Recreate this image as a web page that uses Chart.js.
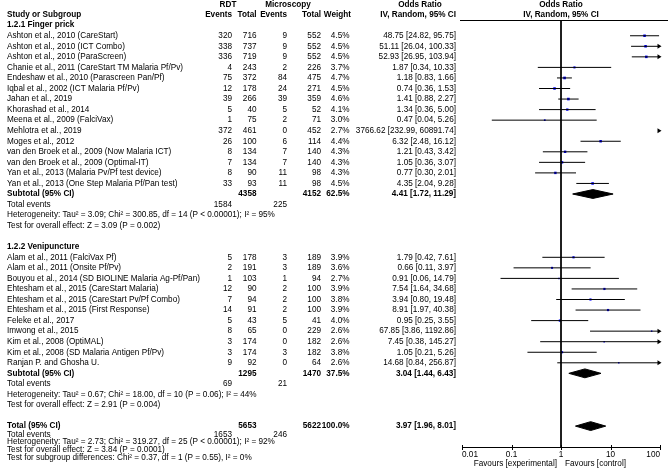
<!DOCTYPE html>
<html>
<head>
<meta charset="utf-8">
<script src="https://cdn.jsdelivr.net/npm/chart.js@4.4.0/dist/chart.umd.min.js"></script>
<style>
  html, body { margin: 0; padding: 0; background: #fff; }
</style>
</head>
<body>
<canvas id="forest" width="668" height="474"></canvas>
<script>
// ---- 1.2.1 Finger prick ----
var fingerStudies = [
  'Ashton et al., 2010 (CareStart)',
  'Ashton et al., 2010 (ICT Combo)',
  'Ashton et al., 2010 (ParaScreen)',
  'Chanie et al., 2011 (CareStart TM Malaria Pf/Pv)',
  'Endeshaw et al., 2010 (Parascreen Pan/Pf)',
  'Iqbal et al., 2002 (ICT Malaria Pf/Pv)',
  'Jahan et al., 2019',
  'Khorashad et al., 2014',
  'Meena et al., 2009 (FalciVax)',
  'Mehlotra et al., 2019',
  'Moges et al., 2012',
  'van den Broek et al., 2009 (Now Malaria ICT)',
  'van den Broek et al., 2009 (Optimal-IT)',
  'Yan et al., 2013 (Malaria Pv/Pf test device)',
  'Yan et al., 2013 (One Step Malaria Pf/Pan test)'
];
var fingerRdtEvents = [320, 338, 336, 4, 75, 12, 39, 5, 1, 372, 26, 8, 7, 8, 33];
var fingerRdtTotal = [716, 737, 719, 243, 372, 178, 266, 40, 75, 461, 100, 134, 134, 90, 93];
var fingerMicEvents = [9, 9, 9, 2, 84, 24, 39, 5, 2, 0, 6, 7, 7, 11, 11];
var fingerMicTotal = [552, 552, 552, 226, 475, 271, 359, 52, 71, 452, 114, 140, 140, 98, 98];
var fingerWeight = [4.5, 4.5, 4.5, 3.7, 4.7, 4.5, 4.6, 4.1, 3.0, 2.7, 4.4, 4.3, 4.3, 4.3, 4.5];
var fingerOR = [48.75, 51.11, 52.93, 1.87, 1.18, 0.74, 1.41, 1.34, 0.47, 3766.62, 6.32, 1.21, 1.05, 0.77, 4.35];
var fingerLower = [24.82, 26.04, 26.95, 0.34, 0.83, 0.36, 0.88, 0.36, 0.04, 232.99, 2.48, 0.43, 0.36, 0.30, 2.04];
var fingerUpper = [95.75, 100.33, 103.94, 10.33, 1.66, 1.53, 2.27, 5.00, 5.26, 60891.74, 16.12, 3.42, 3.07, 2.01, 9.28];

// ---- 1.2.2 Venipuncture ----
var veniStudies = [
  'Alam et al., 2011 (FalciVax Pf)',
  'Alam et al., 2011 (Onsite Pf/Pv)',
  'Bouyou et al., 2014 (SD BIOLINE Malaria Ag-Pf/Pan)',
  'Ehtesham et al., 2015 (CareStart Malaria)',
  'Ehtesham et al., 2015 (CareStart Pv/Pf Combo)',
  'Ehtesham et al., 2015 (First Response)',
  'Feleke et al., 2017',
  'Imwong et al., 2015',
  'Kim et al., 2008 (OptiMAL)',
  'Kim et al., 2008 (SD Malaria Antigen Pf/Pv)',
  'Ranjan P. and Ghosha U.'
];
var veniRdtEvents = [5, 2, 1, 12, 7, 14, 5, 8, 3, 3, 9];
var veniRdtTotal = [178, 191, 103, 90, 94, 91, 43, 65, 174, 174, 92];
var veniMicEvents = [3, 3, 1, 2, 2, 2, 5, 0, 0, 3, 0];
var veniMicTotal = [189, 189, 94, 100, 100, 100, 41, 229, 182, 182, 64];
var veniWeight = [3.9, 3.6, 2.7, 3.9, 3.8, 3.9, 4.0, 2.6, 2.6, 3.8, 2.6];
var veniOR = [1.79, 0.66, 0.91, 7.54, 3.94, 8.91, 0.95, 67.85, 7.45, 1.05, 14.68];
var veniLower = [0.42, 0.11, 0.06, 1.64, 0.80, 1.97, 0.25, 3.86, 0.38, 0.21, 0.84];
var veniUpper = [7.61, 3.97, 14.79, 34.68, 19.48, 40.38, 3.55, 1192.86, 145.27, 5.26, 256.87];

// ---- subgroup summaries ----
var subgroupTitles = ['1.2.1 Finger prick', '1.2.2 Venipuncture'];
var subtotalRdtTotal = [4358, 1295];
var subtotalMicTotal = [4152, 1470];
var subtotalWeight = [62.5, 37.5];
var subtotalOR = [4.41, 3.04];
var subtotalLower = [1.72, 1.44];
var subtotalUpper = [11.29, 6.43];
var subtotalRdtEvents = [1584, 69];
var subtotalMicEvents = [225, 21];
var subtotalHeterogeneity = [
  'Heterogeneity: Tau\u00b2 = 3.09; Chi\u00b2 = 300.85, df = 14 (P < 0.00001); I\u00b2 = 95%',
  'Heterogeneity: Tau\u00b2 = 0.67; Chi\u00b2 = 18.00, df = 10 (P = 0.06); I\u00b2 = 44%'
];
var subtotalEffect = [
  'Test for overall effect: Z = 3.09 (P = 0.002)',
  'Test for overall effect: Z = 2.91 (P = 0.004)'
];

// ---- overall ----
var totalTotals = [5653, 5622];
var totalWeight = 100.0;
var totalOR = [3.97, 1.96, 8.01];
var totalEvents = [1653, 246];
var totalNotes = [
  'Heterogeneity: Tau\u00b2 = 2.73; Chi\u00b2 = 319.27, df = 25 (P < 0.00001); I\u00b2 = 92%',
  'Test for overall effect: Z = 3.84 (P = 0.0001)',
  'Test for subgroup differences: Chi\u00b2 = 0.37, df = 1 (P = 0.55), I\u00b2 = 0%'
];

// ---- axis ----
var axisTicks = [0.01, 0.1, 1, 10, 100];
var axisTickLabels = ['0.01', '0.1', '1', '10', '100'];
var favoursLeft = 'Favours [experimental]';
var favoursRight = 'Favours [control]';

//--------------
// layout
//--------------
var FONT = '"Liberation Sans", Arial, sans-serif';
var FS = 8.2;
var ROW_TOP = 25.2, ROW_STEP = 10.55;
var AREA = { left: 462, right: 660, top: 20, bottom: 447 };
var COL = { name: 7, rdtEv: 232, rdtTot: 256.5, micEv: 287, micTot: 321, weight: 349.5, or: 456 };

var groups = [
  { studies: fingerStudies, rdtEv: fingerRdtEvents, rdtTot: fingerRdtTotal, micEv: fingerMicEvents,
    micTot: fingerMicTotal, weight: fingerWeight, or: fingerOR, lo: fingerLower, hi: fingerUpper },
  { studies: veniStudies, rdtEv: veniRdtEvents, rdtTot: veniRdtTotal, micEv: veniMicEvents,
    micTot: veniMicTotal, weight: veniWeight, or: veniOR, lo: veniLower, hi: veniUpper }
];

function orText(o, l, h) { return o.toFixed(2) + ' [' + l.toFixed(2) + ', ' + h.toFixed(2) + ']'; }

var cells = [];       // table text
var studyRows = [];   // CI lines + squares
var summaryRows = []; // diamonds
function cell(text, x, pos, align, bold) { cells.push({ text: String(text), x: x, pos: pos, align: align, bold: bold }); }

var pos = 0;
groups.forEach(function (g, gi) {
  cell(subgroupTitles[gi], COL.name, pos, 'left', true);
  pos += 1;
  g.studies.forEach(function (s, i) {
    cell(s, COL.name, pos, 'left');
    cell(g.rdtEv[i], COL.rdtEv, pos, 'right');
    cell(g.rdtTot[i], COL.rdtTot, pos, 'right');
    cell(g.micEv[i], COL.micEv, pos, 'right');
    cell(g.micTot[i], COL.micTot, pos, 'right');
    cell(g.weight[i].toFixed(1) + '%', COL.weight, pos, 'right');
    cell(orText(g.or[i], g.lo[i], g.hi[i]), COL.or, pos, 'right');
    studyRows.push({ pos: pos, or: g.or[i], lo: g.lo[i], hi: g.hi[i], weight: g.weight[i] });
    pos += 1;
  });
  cell('Subtotal (95% CI)', COL.name, pos, 'left', true);
  cell(subtotalRdtTotal[gi], COL.rdtTot, pos, 'right', true);
  cell(subtotalMicTotal[gi], COL.micTot, pos, 'right', true);
  cell(subtotalWeight[gi].toFixed(1) + '%', COL.weight, pos, 'right', true);
  cell(orText(subtotalOR[gi], subtotalLower[gi], subtotalUpper[gi]), COL.or, pos, 'right', true);
  summaryRows.push({ pos: pos, or: subtotalOR[gi], lo: subtotalLower[gi], hi: subtotalUpper[gi] });
  pos += 1;
  cell('Total events', COL.name, pos, 'left');
  cell(subtotalRdtEvents[gi], COL.rdtEv, pos, 'right');
  cell(subtotalMicEvents[gi], COL.micEv, pos, 'right');
  pos += 1;
  cell(subtotalHeterogeneity[gi], COL.name, pos, 'left');
  pos += 1;
  cell(subtotalEffect[gi], COL.name, pos, 'left');
  pos += 2;
});
cell('Total (95% CI)', COL.name, pos, 'left', true);
cell(totalTotals[0], COL.rdtTot, pos, 'right', true);
cell(totalTotals[1], COL.micTot, pos, 'right', true);
cell(totalWeight.toFixed(1) + '%', COL.weight, pos, 'right', true);
cell(orText(totalOR[0], totalOR[1], totalOR[2]), COL.or, pos, 'right', true);
summaryRows.push({ pos: pos, or: totalOR[0], lo: totalOR[1], hi: totalOR[2] });
pos += 0.8;
cell('Total events', COL.name, pos, 'left');
cell(totalEvents[0], COL.rdtEv, pos, 'right');
cell(totalEvents[1], COL.micEv, pos, 'right');
totalNotes.forEach(function (t) { pos += 0.72; cell(t, COL.name, pos, 'left'); });

var yMin = (AREA.top - ROW_TOP) / ROW_STEP;
var yMax = (AREA.bottom - ROW_TOP) / ROW_STEP;
var DIAMOND_H = 0.42;

//--------------
// datasets
//--------------
var datasets = [];
// line of no effect
datasets.push({ data: [{ x: 1, y: yMin }, { x: 1, y: yMax }], showLine: true, borderColor: '#000',
  borderWidth: 1, pointRadius: 0, clip: 0 });
// confidence intervals
studyRows.forEach(function (r) {
  datasets.push({ data: [{ x: r.lo, y: r.pos }, { x: r.hi, y: r.pos }], showLine: true,
    borderColor: '#000', borderWidth: 1, pointRadius: 0, clip: 0 });
});
// study estimates
datasets.push({
  data: studyRows.map(function (r) { return { x: r.or, y: r.pos }; }),
  pointStyle: 'rect', backgroundColor: '#0000ff', borderWidth: 0,
  pointRadius: studyRows.map(function (r) { return r.weight * 0.4; }), clip: 0
});
// pooled diamonds
summaryRows.forEach(function (r) {
  datasets.push({
    data: [{ x: r.lo, y: r.pos }, { x: r.or, y: r.pos - DIAMOND_H }, { x: r.hi, y: r.pos },
           { x: r.or, y: r.pos + DIAMOND_H }, { x: r.lo, y: r.pos }],
    showLine: true, fill: 'shape', backgroundColor: '#000', borderColor: '#000', borderWidth: 1,
    pointRadius: 0, tension: 0, clip: 0
  });
});

//--------------
// plugin: table text, arrows, axis
//--------------
var forestExtras = {
  id: 'forestExtras',
  afterDraw: function (chart) {
    var ctx = chart.ctx, xs = chart.scales.x, ys = chart.scales.y, ca = chart.chartArea;
    ctx.save();
    ctx.fillStyle = '#000';
    ctx.textBaseline = 'middle';

    // headers
    function head(t, x, y, align) { ctx.font = 'bold ' + FS + 'px ' + FONT; ctx.textAlign = align; ctx.fillText(t, x, y); }
    head('RDT', 228, 5, 'center');
    head('Microscopy', 288, 5, 'center');
    head('Odds Ratio', 420, 5, 'center');
    head('Odds Ratio', xs.getPixelForValue(1), 5, 'center');
    head('Study or Subgroup', COL.name, 14.5, 'left');
    head('Events', COL.rdtEv, 14.5, 'right');
    head('Total', COL.rdtTot, 14.5, 'right');
    head('Events', COL.micEv, 14.5, 'right');
    head('Total', COL.micTot, 14.5, 'right');
    head('Weight', COL.weight + 1.5, 14.5, 'right');
    head('IV, Random, 95% CI', COL.or, 14.5, 'right');
    head('IV, Random, 95% CI', xs.getPixelForValue(1), 14.5, 'center');

    // rule under headers
    ctx.strokeStyle = '#000';
    ctx.lineWidth = 1;
    ctx.beginPath();
    ctx.moveTo(ca.left - 2, ca.top + 0.5);
    ctx.lineTo(chart.width, ca.top + 0.5);
    ctx.stroke();

    // table cells
    cells.forEach(function (c) {
      ctx.font = (c.bold ? 'bold ' : '') + FS + 'px ' + FONT;
      ctx.textAlign = c.align;
      ctx.fillText(c.text, c.x, ys.getPixelForValue(c.pos));
    });

    // arrows for intervals running off the scale
    studyRows.forEach(function (r) {
      var y = ys.getPixelForValue(r.pos);
      if (r.hi > xs.max) {
        ctx.beginPath();
        ctx.moveTo(ca.right + 1.5, y);
        ctx.lineTo(ca.right - 2.5, y - 2.5);
        ctx.lineTo(ca.right - 2.5, y + 2.5);
        ctx.closePath();
        ctx.fill();
      }
      if (r.lo < xs.min) {
        ctx.beginPath();
        ctx.moveTo(ca.left - 1.5, y);
        ctx.lineTo(ca.left + 2.5, y - 2.5);
        ctx.lineTo(ca.left + 2.5, y + 2.5);
        ctx.closePath();
        ctx.fill();
      }
    });

    // x axis
    var ay = Math.round(ca.bottom) + 0.5;
    ctx.beginPath();
    ctx.moveTo(xs.getPixelForValue(axisTicks[0]), ay);
    ctx.lineTo(xs.getPixelForValue(axisTicks[axisTicks.length - 1]) + 1, ay);
    axisTicks.forEach(function (v) {
      var px = Math.round(xs.getPixelForValue(v)) + 0.5;
      ctx.moveTo(px, ay - 2.5);
      ctx.lineTo(px, ay + 2.5);
    });
    ctx.stroke();
    ctx.font = FS + 'px ' + FONT;
    axisTicks.forEach(function (v, i) {
      ctx.textAlign = i === 0 ? 'left' : (i === axisTicks.length - 1 ? 'right' : 'center');
      ctx.fillText(axisTickLabels[i], xs.getPixelForValue(v), ay + 7);
    });
    var x1 = xs.getPixelForValue(1);
    ctx.textAlign = 'right';
    ctx.fillText(favoursLeft, x1 - 4, ay + 16);
    ctx.textAlign = 'left';
    ctx.fillText(favoursRight, x1 + 4, ay + 16);
    ctx.restore();
  }
};

new Chart(document.getElementById('forest').getContext('2d'), {
  type: 'scatter',
  data: { datasets: datasets },
  options: {
    responsive: false,
    animation: false,
    devicePixelRatio: 1,
    layout: { padding: { left: AREA.left, right: 668 - AREA.right, top: AREA.top, bottom: 474 - AREA.bottom } },
    plugins: { legend: { display: false }, tooltip: { enabled: false } },
    elements: { line: { tension: 0 } },
    scales: {
      x: { type: 'logarithmic', min: 0.01, max: 100, display: false },
      y: { type: 'linear', min: yMin, max: yMax, reverse: true, display: false }
    }
  },
  plugins: [forestExtras]
});
</script>
</body>
</html>
